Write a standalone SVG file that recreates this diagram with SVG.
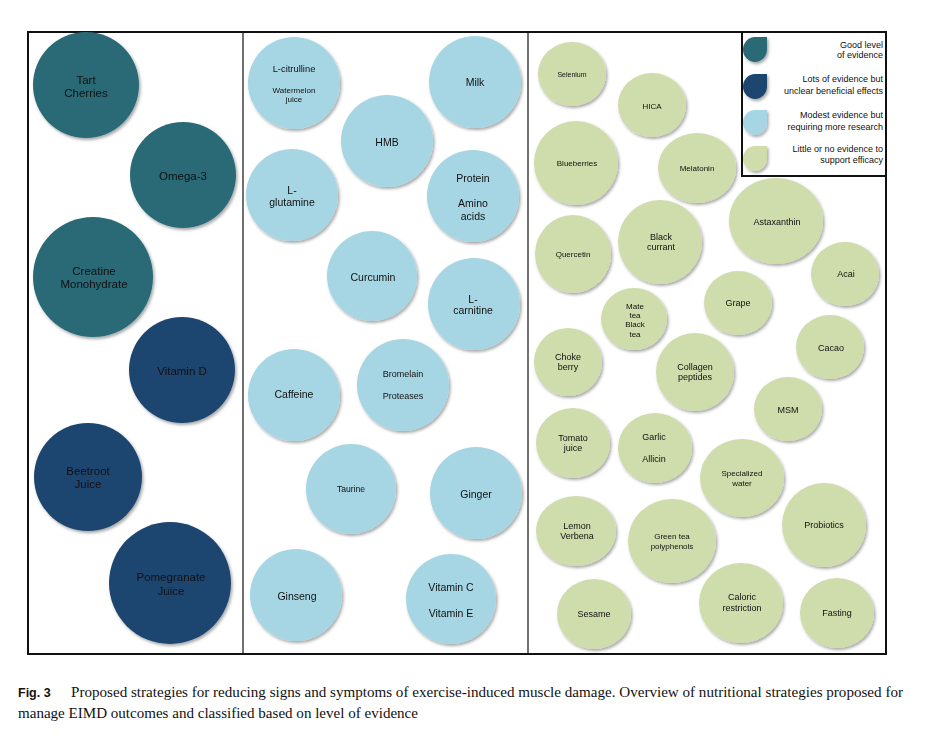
<svg xmlns="http://www.w3.org/2000/svg" width="943" height="747" viewBox="0 0 943 747">
<defs>
<filter id="sh" x="-20%" y="-20%" width="150%" height="150%">
<feDropShadow dx="1.5" dy="2" stdDeviation="1.4" flood-color="#000" flood-opacity="0.35"/>
</filter>
<style>
.t{font-family:"Liberation Sans",Arial,sans-serif;fill:#111;text-anchor:middle}
.l{font-size:11.5px}
.m{font-size:10.5px}
.r{font-size:9px}
.s{font-size:8px}
.teal{fill:#296a77}
.navy{fill:#1e4570}
.sky{fill:#a6d6e4}
.sage{fill:#cfdcab}
.n{filter:url(#sh)}
.lg{font-family:"Liberation Sans",Arial,sans-serif;font-size:9px;fill:#111;text-anchor:end}
.cap{font-family:"Liberation Serif","Times New Roman",serif;font-size:14px;fill:#111}
</style>
</defs>
<rect width="943" height="747" fill="#fff"/>

<g id="frame" fill="none" stroke="#111">
<rect x="28" y="32" width="858" height="622" stroke-width="2"/>
<line x1="243" y1="32" x2="243" y2="654" stroke-width="1.2"/>
<line x1="528" y1="32" x2="528" y2="654" stroke-width="1.2"/>
</g>

<!-- Left column -->
<g id="tart-cherries" class="n"><circle class="teal" cx="86" cy="85" r="53"/><text class="t l" x="86" y="84">Tart</text><text class="t l" x="86" y="97">Cherries</text></g>
<g id="omega-3" class="n"><circle class="teal" cx="183" cy="175" r="53"/><text class="t l" x="183" y="180">Omega-3</text></g>
<g id="creatine" class="n"><circle class="teal" cx="93" cy="277" r="60"/><text class="t l" x="94" y="275">Creatine</text><text class="t l" x="94" y="288">Monohydrate</text></g>
<g id="vitamin-d" class="n"><circle class="navy" cx="182" cy="370" r="53"/><text class="t l" x="182" y="375">Vitamin D</text></g>
<g id="beetroot" class="n"><circle class="navy" cx="88" cy="477" r="54"/><text class="t l" x="88" y="475">Beetroot</text><text class="t l" x="88" y="488">Juice</text></g>
<g id="pomegranate" class="n"><circle class="navy" cx="170" cy="583" r="61"/><text class="t l" x="171" y="581">Pomegranate</text><text class="t l" x="171" y="595">Juice</text></g>

<!-- Middle column -->
<g id="l-citrulline" class="n"><circle class="sky" cx="294" cy="83" r="46"/><text class="t" style="font-size:9.4px" x="294" y="71.5">L-citrulline</text><text class="t s" x="294" y="93">Watermelon</text><text class="t s" x="294" y="102">juice</text></g>
<g id="milk" class="n"><circle class="sky" cx="475" cy="82" r="46"/><text class="t m" x="475" y="86">Milk</text></g>
<g id="hmb" class="n"><circle class="sky" cx="387" cy="141" r="46"/><text class="t m" x="387" y="146">HMB</text></g>
<g id="l-glutamine" class="n"><circle class="sky" cx="292" cy="195" r="46"/><text class="t m" x="292" y="194">L-</text><text class="t m" x="292" y="206">glutamine</text></g>
<g id="protein" class="n"><circle class="sky" cx="473" cy="196" r="46"/><text class="t m" x="473" y="182">Protein</text><text class="t m" x="473" y="207">Amino</text><text class="t m" x="473" y="220">acids</text></g>
<g id="curcumin" class="n"><circle class="sky" cx="372" cy="276" r="45"/><text class="t m" x="373" y="281">Curcumin</text></g>
<g id="l-carnitine" class="n"><circle class="sky" cx="474" cy="304" r="46"/><text class="t m" x="473" y="303">L-</text><text class="t m" x="473" y="314">carnitine</text></g>
<g id="caffeine" class="n"><circle class="sky" cx="294" cy="395" r="46"/><text class="t m" x="294" y="398">Caffeine</text></g>
<g id="bromelain" class="n"><circle class="sky" cx="403" cy="385" r="46"/><text class="t r" x="403" y="377">Bromelain</text><text class="t r" x="403" y="399">Proteases</text></g>
<g id="taurine" class="n"><circle class="sky" cx="351" cy="489" r="45"/><text class="t" style="font-size:8.6px" x="351" y="492">Taurine</text></g>
<g id="ginger" class="n"><circle class="sky" cx="476" cy="493" r="46"/><text class="t m" x="476" y="498">Ginger</text></g>
<g id="ginseng" class="n"><circle class="sky" cx="296" cy="595" r="46"/><text class="t m" x="297" y="600">Ginseng</text></g>
<g id="vitamin-c-e" class="n"><circle class="sky" cx="451" cy="599" r="45"/><text class="t m" x="451" y="591">Vitamin C</text><text class="t m" x="451" y="617">Vitamin E</text></g>

<!-- Right column -->
<g id="selenium" class="n"><ellipse class="sage" cx="572" cy="74" rx="34" ry="32"/><text class="t" style="font-size:7px" x="572" y="76.5">Selenium</text></g>
<g id="hica" class="n"><ellipse class="sage" cx="652" cy="105" rx="34" ry="32"/><text class="t s" x="652" y="109">HICA</text></g>
<g id="blueberries" class="n"><circle class="sage" cx="576" cy="163" r="42"/><text class="t s" x="577" y="166">Blueberries</text></g>
<g id="melatonin" class="n"><ellipse class="sage" cx="697" cy="168" rx="39" ry="35"/><text class="t s" x="697" y="171">Melatonin</text></g>
<g id="quercetin" class="n"><ellipse class="sage" cx="573" cy="254" rx="38" ry="39"/><text class="t s" x="573" y="257">Quercetin</text></g>
<g id="black-currant" class="n"><circle class="sage" cx="660" cy="242" r="42"/><text class="t r" x="661" y="240">Black</text><text class="t r" x="661" y="250">currant</text></g>
<g id="astaxanthin" class="n"><ellipse class="sage" cx="776" cy="221" rx="47" ry="43"/><text class="t r" x="777" y="225">Astaxanthin</text></g>
<g id="acai" class="n"><ellipse class="sage" cx="845" cy="274" rx="34" ry="32"/><text class="t r" x="846" y="277">Acai</text></g>
<g id="mate-tea" class="n"><ellipse class="sage" cx="634" cy="319" rx="33" ry="31"/><text class="t s" x="635" y="309">Mate</text><text class="t s" x="635" y="318">tea</text><text class="t s" x="635" y="327">Black</text><text class="t s" x="635" y="337">tea</text></g>
<g id="grape" class="n"><ellipse class="sage" cx="738" cy="303" rx="34" ry="32"/><text class="t r" x="738" y="306">Grape</text></g>
<g id="cacao" class="n"><ellipse class="sage" cx="830" cy="347" rx="34" ry="32"/><text class="t r" x="831" y="351">Cacao</text></g>
<g id="choke-berry" class="n"><circle class="sage" cx="568" cy="362" r="34"/><text class="t r" x="568" y="360">Choke</text><text class="t r" x="568" y="370">berry</text></g>
<g id="collagen" class="n"><circle class="sage" cx="695" cy="372" r="39"/><text class="t r" x="695" y="370">Collagen</text><text class="t r" x="695" y="380">peptides</text></g>
<g id="msm" class="n"><ellipse class="sage" cx="788" cy="409" rx="34" ry="32"/><text class="t r" x="788" y="413">MSM</text></g>
<g id="tomato-juice" class="n"><ellipse class="sage" cx="573" cy="443" rx="37" ry="35"/><text class="t r" x="573" y="441">Tomato</text><text class="t r" x="573" y="451">juice</text></g>
<g id="garlic" class="n"><ellipse class="sage" cx="655" cy="448" rx="37" ry="35"/><text class="t r" x="654" y="440">Garlic</text><text class="t r" x="654" y="462">Allicin</text></g>
<g id="specialized-water" class="n"><ellipse class="sage" cx="742" cy="478" rx="42" ry="39"/><text class="t s" x="742" y="476">Specialized</text><text class="t s" x="742" y="486">water</text></g>
<g id="lemon-verbena" class="n"><ellipse class="sage" cx="576" cy="531" rx="40" ry="35"/><text class="t r" x="577" y="529">Lemon</text><text class="t r" x="577" y="539">Verbena</text></g>
<g id="green-tea" class="n"><ellipse class="sage" cx="672" cy="541" rx="44" ry="42"/><text class="t s" x="672" y="539">Green tea</text><text class="t s" x="672" y="549">polyphenols</text></g>
<g id="probiotics" class="n"><circle class="sage" cx="824" cy="525" r="42"/><text class="t r" x="824" y="528">Probiotics</text></g>
<g id="sesame" class="n"><ellipse class="sage" cx="594" cy="614" rx="37" ry="35"/><text class="t r" x="594" y="617">Sesame</text></g>
<g id="caloric-restriction" class="n"><ellipse class="sage" cx="741" cy="603" rx="42" ry="40"/><text class="t r" x="742" y="600">Caloric</text><text class="t r" x="742" y="611">restriction</text></g>
<g id="fasting" class="n"><ellipse class="sage" cx="837" cy="613" rx="37" ry="35"/><text class="t r" x="837" y="616">Fasting</text></g>

<!-- Legend -->
<g id="legend">
<rect x="742" y="32" width="144" height="144" fill="#fff" stroke="#111" stroke-width="2"/>
<g class="n">
<path class="teal" d="M755 37 H767 V49.5 A12 12.5 0 1 1 755 37 Z"/>
<path class="navy" d="M755 74 H767 V86.5 A12 12.5 0 1 1 755 74 Z"/>
<path class="sky" d="M755 110 H767 V122.5 A12 12.5 0 1 1 755 110 Z"/>
<path class="sage" d="M755 146 H767 V158.5 A12 12.5 0 1 1 755 146 Z"/>
</g>
<text class="lg" x="883" y="48">Good level</text>
<text class="lg" x="883" y="58">of evidence</text>
<text class="lg" x="883" y="82">Lots of evidence but</text>
<text class="lg" x="883" y="94">unclear beneficial effects</text>
<text class="lg" x="883" y="118">Modest evidence but</text>
<text class="lg" x="883" y="130">requiring more research</text>
<text class="lg" x="883" y="152">Little or no evidence to</text>
<text class="lg" x="883" y="163">support efficacy</text>
</g>

<!-- Caption -->
<g id="caption">
<text class="cap" x="18" y="697"><tspan style="font-family:'Liberation Sans',Arial,sans-serif;font-weight:bold;font-size:12.5px">Fig. 3</tspan></text>
<text class="cap" x="71" y="697" textLength="832" lengthAdjust="spacingAndGlyphs">Proposed strategies for reducing signs and symptoms of exercise-induced muscle damage. Overview of nutritional strategies proposed for</text>
<text class="cap" x="18" y="718" textLength="400" lengthAdjust="spacingAndGlyphs">manage EIMD outcomes and classified based on level of evidence</text>
</g>
</svg>
